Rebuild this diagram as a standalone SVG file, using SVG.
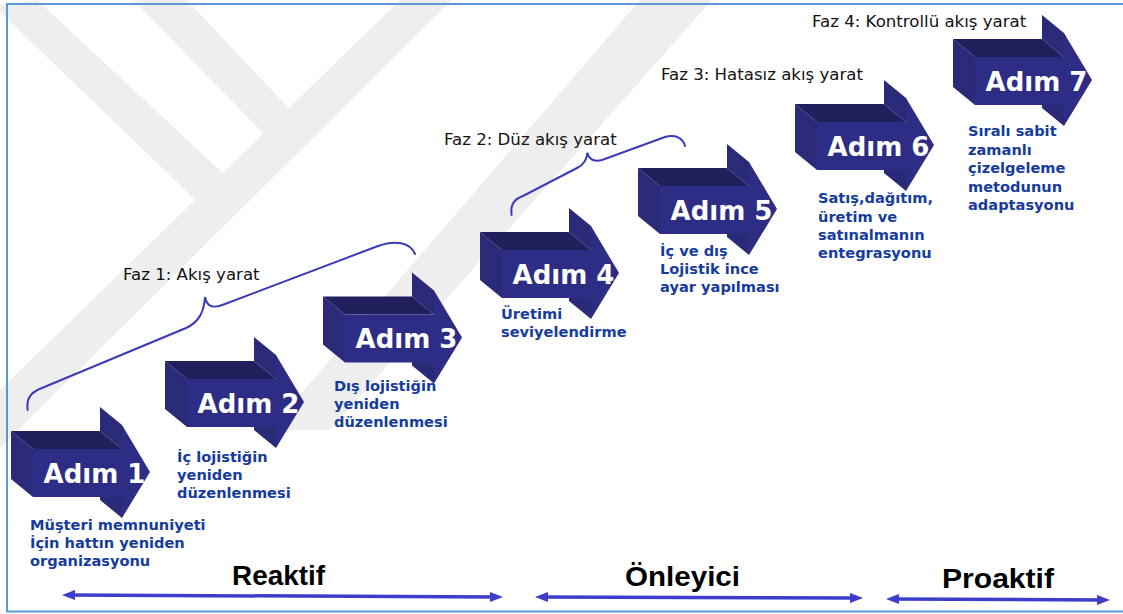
<svg xmlns="http://www.w3.org/2000/svg" xmlns:xlink="http://www.w3.org/1999/xlink" width="1123" height="614" viewBox="0 0 1123 614">
  <style>
    .wm { fill: #eeeeee; }
    .top { fill: #22205c; }
    .side { fill: #2b2a78; }
    .front { fill: #2e2d86; }
    .step { font-family: "DejaVu Sans", Verdana, sans-serif; font-weight: bold; font-size: 26px; fill: #ffffff; text-anchor: middle; }
    .desc { font-family: "DejaVu Sans", Verdana, sans-serif; font-weight: bold; font-size: 14.6px; fill: #163c9e; }
    .faz { font-family: "DejaVu Sans", Verdana, sans-serif; font-size: 16.6px; fill: #111111; }
    .phase { font-family: "Liberation Sans", Arial, sans-serif; font-weight: bold; font-size: 27px; fill: #000000; text-anchor: middle; }
    .brace { fill: none; stroke: #3a3ab8; stroke-width: 2; stroke-linecap: round; }
    .span { stroke: #3d3dcc; stroke-width: 3.5; marker-start: url(#tip); marker-end: url(#tip); }
  </style>
  <defs>
    <!-- extruded block arrow; origin = back top-left corner of the shaft -->
    <g id="block">
      <polygon class="side" points="0,0 22,18 22,66 0,48"/>
      <polygon class="top" points="0,0 89,0 111,18 22,18"/>
      <polygon class="side" points="89,-24 111,-6 111,18 89,0"/>
      <polygon class="side" points="89,48 111,66 111,87 89,69"/>
      <polygon class="front" points="22,18 111,18 111,-6 139,41 111,87 111,66 22,66"/>
    </g>
    <marker id="tip" viewBox="0 0 13 10" refX="7" refY="5" markerWidth="13" markerHeight="10" markerUnits="userSpaceOnUse" orient="auto-start-reverse">
      <path d="M0,0 L13,5 L0,10 z" fill="#3d3dcc"/>
    </marker>
  </defs>

  <rect width="1123" height="614" fill="#ffffff"/>

  <!-- pale background emblem -->
  <g id="emblem">
    <polygon class="wm" points="0,5 37,0 227,177 203,207 0,12"/>
    <polygon class="wm" points="133,0 187,0 295,115 270,140"/>
    <polygon class="wm" points="0,390 400,0 452,0 0,448"/>
    <polygon class="wm" points="640,0 712,0 330,430 270,430"/>
  </g>

  <!-- frame -->
  <rect x="7" y="4" width="1125" height="607.5" fill="none" stroke="#5b9bd5" stroke-width="2"/>

  <!-- connectors: phase braces and span arrows -->
  <g id="connectors">
    <path class="brace" d="M27.7,410 C26,398 31,392 42,388 L186,328 C199,322 204,312 205,297 C207,307 213,309 225,304 L378,246 C395,240 410,242 415,254"/>
    <path class="brace" d="M511.7,215 C510,205 514,199 523,196 L577,168 C585,164 587,159 587.3,152.7 C589,159 594,162 602,160 L665,137 C675,134 683,138 685,146"/>
    <line class="span" x1="68" y1="595" x2="497" y2="597"/>
    <line class="span" x1="541" y1="597" x2="857" y2="598"/>
    <line class="span" x1="892" y1="599" x2="1104" y2="600"/>
  </g>

  <!-- phase headings -->
  <text class="faz" x="123" y="280">Faz 1: Akış yarat</text>
  <text class="faz" x="444" y="145">Faz 2: Düz akış yarat</text>
  <text class="faz" x="661" y="80">Faz 3: Hatasız akış yarat</text>
  <text class="faz" x="812" y="27">Faz 4: Kontrollü akış yarat</text>

  <!-- steps -->
  <g id="step1">
    <use xlink:href="#block" x="11" y="431"/>
    <text class="step" x="94.5" y="482.5">Adım 1</text>
    <text class="desc" x="30" y="530">Müşteri memnuniyeti</text>
    <text class="desc" x="30" y="548">İçin hattın yeniden</text>
    <text class="desc" x="30" y="566">organizasyonu</text>
  </g>
  <g id="step2">
    <use xlink:href="#block" x="165" y="361"/>
    <text class="step" x="248.5" y="412.5">Adım 2</text>
    <text class="desc" x="177" y="462">İç lojistiğin</text>
    <text class="desc" x="177" y="480">yeniden</text>
    <text class="desc" x="177" y="498">düzenlenmesi</text>
  </g>
  <g id="step3">
    <use xlink:href="#block" x="323" y="296.5"/>
    <text class="step" x="406.5" y="348">Adım 3</text>
    <text class="desc" x="334" y="391">Dış lojistiğin</text>
    <text class="desc" x="334" y="409">yeniden</text>
    <text class="desc" x="334" y="427">düzenlenmesi</text>
  </g>
  <g id="step4">
    <use xlink:href="#block" x="480" y="232"/>
    <text class="step" x="563.5" y="283.5">Adım 4</text>
    <text class="desc" x="501" y="319">Üretimi</text>
    <text class="desc" x="501" y="337">seviyelendirme</text>
  </g>
  <g id="step5">
    <use xlink:href="#block" x="638" y="168"/>
    <text class="step" x="721.5" y="219.5">Adım 5</text>
    <text class="desc" x="660" y="256">İç ve dış</text>
    <text class="desc" x="660" y="274">Lojistik ince</text>
    <text class="desc" x="660" y="292">ayar yapılması</text>
  </g>
  <g id="step6">
    <use xlink:href="#block" x="795" y="104"/>
    <text class="step" x="878.5" y="155.5">Adım 6</text>
    <text class="desc" x="818" y="203">Satış,dağıtım,</text>
    <text class="desc" x="818" y="221.5">üretim ve</text>
    <text class="desc" x="818" y="240">satınalmanın</text>
    <text class="desc" x="818" y="258">entegrasyonu</text>
  </g>
  <g id="step7">
    <use xlink:href="#block" x="953" y="39"/>
    <text class="step" x="1036.5" y="90.5">Adım 7</text>
    <text class="desc" x="968" y="136">Sıralı sabit</text>
    <text class="desc" x="968" y="154.5">zamanlı</text>
    <text class="desc" x="968" y="173">çizelgeleme</text>
    <text class="desc" x="968" y="191.5">metodunun</text>
    <text class="desc" x="968" y="210">adaptasyonu</text>
  </g>

  <!-- span labels -->
  <text class="phase" x="278.5" y="584.5" textLength="93" lengthAdjust="spacingAndGlyphs">Reaktif</text>
  <text class="phase" x="682.5" y="586" textLength="115" lengthAdjust="spacingAndGlyphs">Önleyici</text>
  <text class="phase" x="998" y="588" textLength="112" lengthAdjust="spacingAndGlyphs">Proaktif</text>
</svg>
